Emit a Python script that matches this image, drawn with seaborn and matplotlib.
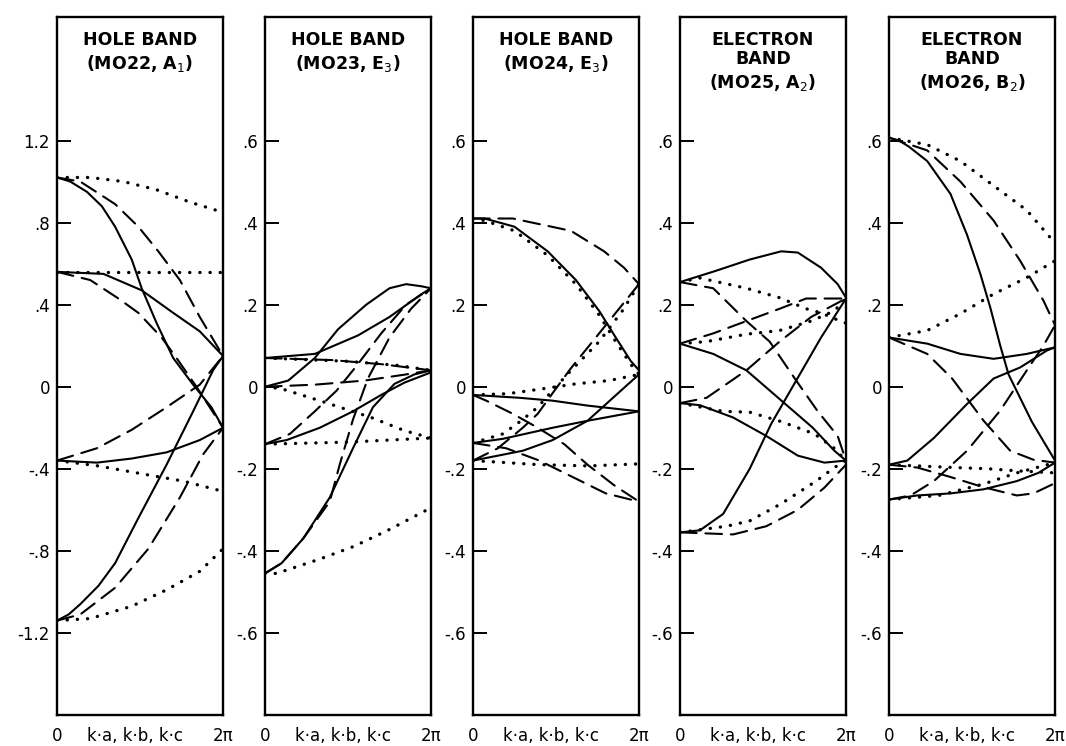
"""Tight-binding band curves for five molecular orbitals along k·a, k·b, k·c."""

import matplotlib
matplotlib.use("Agg")
import matplotlib.pyplot as plt
import pandas as pd
import seaborn as sns

# x is the fraction of the 0..2pi range, y is the energy
# each curve: (line style, x fractions, energies)
HOLE_22 = [
    ("solid", [0, .08, .18, .27, .35, .45, .51, .60, .70, .82, .93, 1], [1.02, 1.0, .95, .88, .78, .62, .48, .31, .14, .01, -.10, -.20]),
    ("dashed", [0, .14, .35, .49, .61, .74, .86, 1], [1.02, 1.0, .89, .78, .66, .52, .34, .15]),
    ("dotted", [0, .2, .4, .6, .8, 1], [1.02, 1.02, 1.0, .96, .90, .85]),
    ("dotted", [0, .5, 1], [.56, .56, .56]),
    ("solid", [0, .28, .51, .70, .86, 1], [.56, .55, .47, .36, .27, .15]),
    ("dashed", [0, .2, .37, .49, .63, .72, .84, 1], [.56, .52, .43, .36, .24, .14, 0, -.2]),
    ("dashed", [0, .04, .24, .45, .66, .86, 1], [-.36, -.35, -.30, -.21, -.10, .01, .15]),
    ("solid", [0, .24, .45, .66, .86, 1], [-.36, -.37, -.35, -.32, -.26, -.2]),
    ("dotted", [0, .24, .55, .76, 1], [-.36, -.385, -.43, -.46, -.51]),
    ("solid", [0, .07, .14, .25, .35, .49, .66, .82, .94, 1], [-1.14, -1.11, -1.06, -.97, -.86, -.64, -.38, -.12, .08, .15]),
    ("dashed", [0, .14, .35, .55, .74, .88, 1], [-1.14, -1.11, -.98, -.79, -.54, -.33, -.2]),
    ("dotted", [0, .2, .45, .66, .86, 1], [-1.14, -1.13, -1.07, -.99, -.9, -.79]),
]

HOLE_23 = [
    ("solid", [0, .14, .30, .44, .61, .75, .85, .94, 1], [0, .015, .07, .14, .20, .24, .25, .245, .24]),
    ("solid", [0, .3, .56, .75, .94, 1], [.07, .08, .125, .17, .225, .24]),
    ("dashed", [0, .4, .7, 1], [.07, .065, .055, .04]),
    ("dotted", [0, .5, .8, 1], [.07, .062, .052, .04]),
    ("dashed", [0, .3, .6, .85, 1], [0, .005, .015, .03, .04]),
    ("dotted", [0, .1, .33, .64, .84, 1], [0, -.005, -.034, -.075, -.107, -.125]),
    ("solid", [0, .13, .33, .53, .7, .84, 1], [-.14, -.13, -.10, -.06, -.02, .01, .035]),
    ("dotted", [0, .5, 1], [-.14, -.135, -.125]),
    ("dashed", [0, .15, .3, .43, .55, .7, .85, 1], [-.14, -.115, -.06, -.01, .05, .13, .2, .24]),
    ("solid", [0, .1, .23, .39, .53, .65, .78, .9, 1], [-.455, -.43, -.37, -.27, -.15, -.05, .007, .03, .04]),
    ("dashed", [0, .1, .23, .39, .45, .53, .62, .75, .88, 1], [-.455, -.43, -.37, -.28, -.19, -.08, .02, .12, .19, .24]),
    ("dotted", [0, .07, .33, .53, .74, 1], [-.455, -.455, -.42, -.39, -.35, -.295]),
]

HOLE_24 = [
    ("solid", [0, .07, .25, .45, .62, .76, .86, .95, 1], [.41, .41, .39, .33, .26, .185, .12, .063, .04]),
    ("dotted", [0, .07, .25, .45, .62, .76, .86, .95, 1], [.41, .405, .38, .32, .25, .175, .11, .055, .03]),
    ("dashed", [0, .24, .59, .79, .91, 1], [.41, .41, .38, .33, .29, .25]),
    ("solid", [0, .28, .48, .69, 1], [-.02, -.027, -.034, -.046, -.06]),
    ("dashed", [0, .08, .24, .39, .55, .69, .85, 1], [-.02, -.034, -.066, -.1, -.14, -.19, -.24, -.28]),
    ("dotted", [0, .21, .42, .62, .82, 1], [-.02, -.017, -.005, .007, .015, .03]),
    ("solid", [0, .18, .48, .69, 1], [-.137, -.127, -.10, -.083, -.06]),
    ("dotted", [0, .18, .29, .39, .5, .58, .76, .9, 1], [-.137, -.115, -.083, -.05, 0, .035, .11, .185, .25]),
    ("dashed", [0, .2, .4, .6, .8, 1], [-.137, -.15, -.18, -.22, -.26, -.28]),
    ("dashed", [0, .15, .3, .39, .49, .59, .76, .9, 1], [-.18, -.15, -.1, -.066, -.01, .045, .13, .2, .25]),
    ("solid", [0, .3, .48, .69, .89, 1], [-.18, -.156, -.13, -.083, -.01, .03]),
    ("dotted", [0, .4, .7, 1], [-.18, -.19, -.193, -.188]),
]

ELECTRON_25 = [
    ("solid", [0, .22, .42, .61, .71, .85, .95, 1], [.255, .283, .31, .33, .327, .29, .25, .217]),
    ("dotted", [0, .12, .4, .6, .76, .85, .93, 1], [.255, .265, .24, .217, .19, .18, .166, .155]),
    ("dashed", [0, .2, .4, .54, .7, .83, .95, 1], [.255, .24, .16, .11, .015, -.06, -.12, -.18]),
    ("dotted", [0, .16, .4, .6, .79, .93, 1], [.105, .11, .128, .137, .16, .185, .215]),
    ("dashed", [0, .2, .4, .6, .76, 1], [.105, .13, .16, .19, .215, .215]),
    ("solid", [0, .2, .4, .6, .8, .93, 1], [.105, .08, .04, -.03, -.1, -.156, -.18]),
    ("dashed", [0, .16, .4, .6, .79, 1], [-.04, -.027, .04, .11, .17, .215]),
    ("dotted", [0, .26, .42, .61, .81, .93, 1], [-.04, -.06, -.062, -.085, -.115, -.15, -.18]),
    ("solid", [0, .12, .32, .52, .71, .87, 1], [-.04, -.045, -.075, -.12, -.168, -.185, -.18]),
    ("solid", [0, .12, .26, .42, .55, .7, .85, 1], [-.355, -.35, -.31, -.2, -.09, .015, .12, .215]),
    ("dotted", [0, .28, .42, .61, .82, .93, 1], [-.355, -.34, -.327, -.285, -.23, -.197, -.18]),
    ("dashed", [0, .32, .52, .71, .87, 1], [-.355, -.36, -.34, -.3, -.246, -.19]),
]

ELECTRON_26 = [
    ("dotted", [0, .23, .43, .63, .83, 1], [.607, .59, .55, .49, .43, .35]),
    ("dashed", [0, .23, .43, .63, .79, .93, 1], [.607, .576, .5, .405, .307, .21, .15]),
    ("solid", [0, .06, .12, .23, .37, .47, .55, .61, .67, .72, .86, 1], [.607, .60, .585, .55, .47, .37, .275, .193, .10, .03, -.085, -.18]),
    ("dotted", [0, .23, .43, .63, .83, 1], [.12, .137, .178, .226, .266, .307]),
    ("solid", [0, .23, .43, .63, .83, 1], [.12, .105, .08, .068, .08, .096]),
    ("dashed", [0, .23, .38, .57, .73, .87, 1], [.12, .08, .02, -.083, -.156, -.178, -.185]),
    ("solid", [0, .11, .27, .47, .63, .79, .95, 1], [-.19, -.18, -.125, -.042, .02, .047, .088, .096]),
    ("dotted", [0, .4, .6, .77, 1], [-.19, -.197, -.2, -.205, -.21]),
    ("dashed", [0, .17, .37, .57, .77, .87, 1], [-.19, -.197, -.22, -.245, -.265, -.26, -.235]),
    ("solid", [0, .17, .37, .57, .77, .9, 1], [-.275, -.265, -.26, -.25, -.23, -.21, -.185]),
    ("dotted", [0, .3, .57, .77, 1], [-.275, -.265, -.237, -.21, -.185]),
    ("dashed", [0, .13, .27, .47, .67, .83, .93, 1], [-.275, -.265, -.23, -.156, -.058, .04, .1, .15]),
]

TITLES = [
    ["HOLE BAND", r"(MO22, A$_1$)"],
    ["HOLE BAND", r"(MO23, E$_3$)"],
    ["HOLE BAND", r"(MO24, E$_3$)"],
    ["ELECTRON", "BAND", r"(MO25, A$_2$)"],
    ["ELECTRON", "BAND", r"(MO26, B$_2$)"],
]

BIG_TICKS = [1.2, .8, .4, 0, -.4, -.8, -1.2]
BIG_LABELS = ["1.2", ".8", ".4", "0", "-.4", "-.8", "-1.2"]
SMALL_TICKS = [.6, .4, .2, 0, -.2, -.4, -.6]
SMALL_LABELS = [".6", ".4", ".2", "0", "-.2", "-.4", "-.6"]

X_LABELS = ["0", "k·a, k·b, k·c", "2π"]


def to_frame(curves):
    rows = []
    for i, (style, xs, ys) in enumerate(curves):
        for x, y in zip(xs, ys):
            rows.append({"x": x, "energy": y, "style": style, "curve": i})
    return pd.DataFrame(rows)


sns.set_style("white")
plt.rcParams["font.family"] = ["DejaVu Sans"]
plt.rcParams["text.color"] = "black"
plt.rcParams["xtick.color"] = "black"
plt.rcParams["ytick.color"] = "black"
plt.rcParams["lines.dash_capstyle"] = "round"
plt.rcParams["lines.solid_capstyle"] = "round"

fig = plt.figure(figsize=(10.66, 7.46), dpi=100)

lefts = [0.0535, 0.2486, 0.4437, 0.6379, 0.834]
panels = [HOLE_22, HOLE_23, HOLE_24, ELECTRON_25, ELECTRON_26]

for k, (left, curves) in enumerate(zip(lefts, panels)):
    ax = fig.add_axes([left, 0.0416, 0.1557, 0.935])
    df = to_frame(curves)
    lined = df[df["style"] != "dotted"]
    dotted = df[df["style"] == "dotted"]

    # solid and dashed curves
    sns.lineplot(
        data=lined, x="x", y="energy", style="style", units="curve",
        estimator=None, sort=False, color="black", linewidth=1.5,
        style_order=["solid", "dashed"],
        dashes={"solid": "", "dashed": (8, 4.2)},
        legend=False, ax=ax,
    )
    # dotted curves, drawn heavier so the dots read as dots
    sns.lineplot(
        data=dotted, x="x", y="energy", units="curve",
        estimator=None, sort=False, color="black", linewidth=2.4,
        dashes=False, legend=False, ax=ax, linestyle=(0, (0.05, 3.0)),
    )

    if k == 0:
        ax.set_ylim(-1.6, 1.8)
        ax.set_yticks(BIG_TICKS)
        ax.set_yticklabels(BIG_LABELS)
    else:
        ax.set_ylim(-0.8, 0.9)
        ax.set_yticks(SMALL_TICKS)
        ax.set_yticklabels(SMALL_LABELS)
    ax.set_xlim(0, 1)
    ax.set_xticks([0, 0.47, 1])
    ax.set_xticklabels(X_LABELS)
    ax.tick_params(axis="y", direction="in", length=10, width=1.4, pad=5,
                   labelsize=12, left=True, right=False)
    ax.tick_params(axis="x", length=0, pad=9, labelsize=12)
    ax.set_xlabel("")
    ax.set_ylabel("")
    for spine in ax.spines.values():
        spine.set_visible(True)
        spine.set_color("black")
        spine.set_linewidth(1.7)

    lines = TITLES[k]
    ys = [0.967, 0.934] if len(lines) == 2 else [0.967, 0.940, 0.907]
    for text, y in zip(lines, ys):
        ax.text(0.5, y, text, transform=ax.transAxes, ha="center", va="center",
                fontsize=12.5, fontweight="semibold")

fig.savefig("out.png", dpi=100)
plt.close(fig)
